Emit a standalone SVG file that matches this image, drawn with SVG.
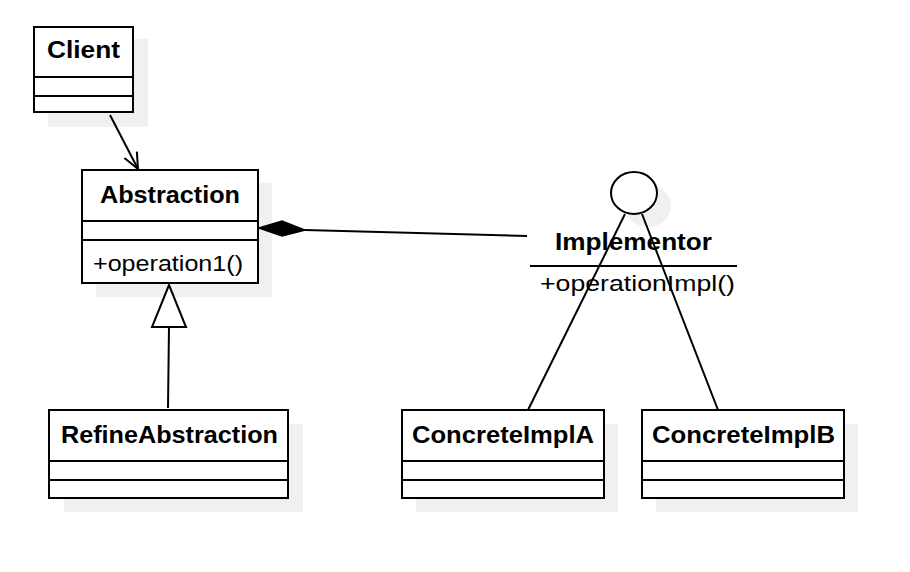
<svg xmlns="http://www.w3.org/2000/svg" width="910" height="572" viewBox="0 0 910 572">
<defs>
<style>
.shadow{fill:#f0f0f0;stroke:none}
.box{fill:#fff;stroke:#000;stroke-width:2}
.ln{stroke:#000;stroke-width:2;fill:none}
.t{font-family:"Liberation Sans",Arial,sans-serif;font-size:22px;fill:#000}
.b{font-weight:bold;text-anchor:middle;font-size:23px}
</style>
<marker id="open" markerWidth="20" markerHeight="20" refX="18" refY="10" orient="auto" markerUnits="userSpaceOnUse">
<path d="M2,3 L18,10 L2,17" fill="none" stroke="#000" stroke-width="2"/>
</marker>
</defs>
<rect width="910" height="572" fill="#fff"/>
<g id="client">
<rect class="shadow" x="48" y="39" width="100" height="88"/>
<rect class="box" x="34" y="27" width="99" height="85"/>
<line class="ln" x1="34" y1="77" x2="133" y2="77"/>
<line class="ln" x1="34" y1="96" x2="133" y2="96"/>
<text class="t b" x="83.5" y="58" textLength="73" lengthAdjust="spacingAndGlyphs">Client</text>
</g>
<g id="abstraction">
<rect class="shadow" x="96" y="183" width="176" height="114"/>
<rect class="box" x="82" y="170" width="176" height="113"/>
<line class="ln" x1="82" y1="221" x2="258" y2="221"/>
<line class="ln" x1="82" y1="240" x2="258" y2="240"/>
<text class="t b" x="170" y="203" textLength="140" lengthAdjust="spacingAndGlyphs">Abstraction</text>
<text class="t" x="93" y="271" textLength="150" lengthAdjust="spacingAndGlyphs">+operation1()</text>
</g>
<g id="implementor">
<ellipse class="shadow" cx="648" cy="206" rx="23" ry="21"/>
<ellipse class="box" cx="634" cy="193" rx="23" ry="21"/>
<text class="t b" x="633.5" y="250" textLength="157" lengthAdjust="spacingAndGlyphs">Implementor</text>
<line class="ln" x1="530" y1="266" x2="737" y2="266"/>
<text class="t" x="540" y="291" textLength="195" lengthAdjust="spacingAndGlyphs">+operationImpl()</text>
</g>
<g id="refineabstraction">
<rect class="shadow" x="64" y="424" width="239" height="88"/>
<rect class="box" x="49" y="410" width="239" height="88"/>
<line class="ln" x1="49" y1="461" x2="288" y2="461"/>
<line class="ln" x1="49" y1="480" x2="288" y2="480"/>
<text class="t b" x="169.5" y="443" textLength="217" lengthAdjust="spacingAndGlyphs">RefineAbstraction</text>
</g>
<g id="concreteimpla">
<rect class="shadow" x="416" y="424" width="202" height="88"/>
<rect class="box" x="402" y="410" width="202" height="88"/>
<line class="ln" x1="402" y1="461" x2="604" y2="461"/>
<line class="ln" x1="402" y1="480" x2="604" y2="480"/>
<text class="t b" x="503" y="443" textLength="182" lengthAdjust="spacingAndGlyphs">ConcreteImplA</text>
</g>
<g id="concreteimplb">
<rect class="shadow" x="656" y="424" width="202" height="88"/>
<rect class="box" x="642" y="410" width="202" height="88"/>
<line class="ln" x1="642" y1="461" x2="844" y2="461"/>
<line class="ln" x1="642" y1="480" x2="844" y2="480"/>
<text class="t b" x="743.5" y="443" textLength="183" lengthAdjust="spacingAndGlyphs">ConcreteImplB</text>
</g>
<g id="connectors">
<line class="ln" x1="110" y1="115" x2="138" y2="169" marker-end="url(#open)"/>
<line class="ln" x1="169" y1="327" x2="168" y2="408"/>
<polygon points="169,285 186,327 152,327" fill="#fff" stroke="#000" stroke-width="2"/>
<line class="ln" x1="305" y1="230" x2="527" y2="236"/>
<polygon points="259,228 282,221 305,230 282,236" fill="#000" stroke="#000" stroke-width="1.5"/>
<line class="ln" x1="625" y1="214" x2="528" y2="410"/>
<line class="ln" x1="642" y1="214" x2="718" y2="410"/>
</g>
</svg>
